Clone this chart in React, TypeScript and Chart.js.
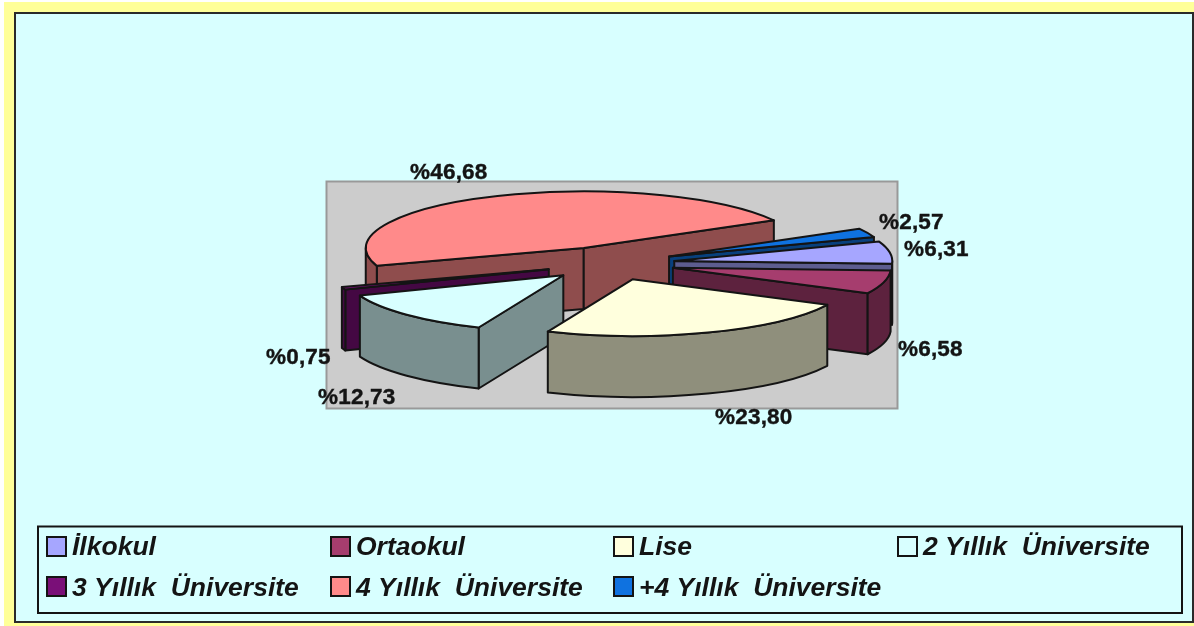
import React, { useEffect, useRef } from "react";
import { Chart, registerables } from "chart.js";

Chart.register(...registerables);

const categories = ["İlkokul", "Ortaokul", "Lise", "2 Yıllık  Üniversite", "3 Yıllık  Üniversite", "4 Yıllık  Üniversite", "+4 Yıllık  Üniversite"];
const shares = [6.31, 6.58, 23.8, 12.73, 0.75, 46.68, 2.57];
const sliceColors = ["#A6A6FF", "#A63D6E", "#FFFFDD", "#D8FFFF", "#7A0F78", "#FF8A8A", "#0F72E0"];

// slices are painted back to front
const paintOrder = [5, 6, 0, 1, 4, 3, 2];
const labelOrigin = [[904, 248], [898, 348], [715, 416], [318, 396], [266, 356], [410, 171], [879, 221]];
const legendColumns = [47, 331, 614, 898];
const legendRows = [537, 577];

const TILT = 0.26;
const DEPTH = 61;
const EXPLODE = 65;
const INK = "#141414";
const PANEL = "#D8FFFF";

function shade(hex: string, f = 0.56) {
  const n = parseInt(hex.slice(1), 16);
  const c = [(n >> 16) & 255, (n >> 8) & 255, n & 255].map((v) => Math.round(v * f));
  return `rgb(${c[0]},${c[1]},${c[2]})`;
}

const pie3d = {
  id: "pie3d",
  beforeDraw(chart: any) {
    const { ctx } = chart;
    ctx.save();
    ctx.fillStyle = "#FFFFFF";
    ctx.fillRect(0, 0, 1194, 626);
    ctx.fillStyle = "#FFFF99";
    ctx.fillRect(4, 2, 1190, 624);
    ctx.fillStyle = PANEL;
    ctx.strokeStyle = "#2A2A2A";
    ctx.lineWidth = 2;
    ctx.fillRect(15, 13, 1178, 609);
    ctx.strokeRect(15, 13, 1178, 609);
    ctx.fillStyle = "#CCCCCC";
    ctx.strokeStyle = "#999999";
    ctx.fillRect(326.5, 181.5, 571, 227);
    ctx.strokeRect(326.5, 181.5, 571, 227);
    ctx.restore();
  },
  beforeDatasetsDraw(chart: any) {
    const { ctx } = chart;
    const arcs = chart.getDatasetMeta(0).data;
    const colors = chart.data.datasets[0].backgroundColor;
    ctx.save();
    ctx.lineJoin = "round";
    ctx.lineWidth = 2;
    ctx.strokeStyle = INK;
    for (const i of paintOrder) {
      const arc = arcs[i];
      const { startAngle: a, endAngle: b, outerRadius: r } = arc;
      const mid = (a + b) / 2;
      const cx = arc.x + Math.cos(mid) * EXPLODE;
      const cy = arc.y + Math.sin(mid) * EXPLODE * TILT;
      const px = (t: number) => cx + Math.cos(t) * r;
      const py = (t: number) => cy + Math.sin(t) * r * TILT;
      const wall = (t: number) => {
        ctx.beginPath();
        ctx.moveTo(cx, cy);
        ctx.lineTo(px(t), py(t));
        ctx.lineTo(px(t), py(t) + DEPTH);
        ctx.lineTo(cx, cy + DEPTH);
        ctx.closePath();
        ctx.fillStyle = shade(colors[i]);
        ctx.fill();
        ctx.stroke();
      };
      if (Math.cos(a) < 0) wall(a);
      if (Math.cos(b) > 0) wall(b);
      // curved rim: only the part on the near side of the ellipse
      for (let k = -1; k <= 1; k++) {
        const s = Math.max(a, k * 2 * Math.PI);
        const e = Math.min(b, k * 2 * Math.PI + Math.PI);
        if (e > s) {
          ctx.beginPath();
          ctx.ellipse(cx, cy, r, r * TILT, 0, s, e);
          ctx.lineTo(px(e), py(e) + DEPTH);
          ctx.ellipse(cx, cy + DEPTH, r, r * TILT, 0, e, s, true);
          ctx.closePath();
          ctx.fillStyle = shade(colors[i]);
          ctx.fill();
          ctx.stroke();
        }
      }
      // top face: the library's own arc, squashed
      ctx.save();
      ctx.translate(cx, cy);
      ctx.scale(1, TILT);
      ctx.translate(-arc.x, -arc.y);
      arc.draw(ctx);
      ctx.restore();
      ctx.beginPath();
      ctx.moveTo(cx, cy);
      ctx.ellipse(cx, cy, r, r * TILT, 0, a, b);
      ctx.closePath();
      ctx.stroke();
    }
    ctx.restore();
    return false;
  },
  afterDraw(chart: any) {
    const { ctx } = chart;
    const values = chart.data.datasets[0].data;
    ctx.save();
    ctx.fillStyle = INK;
    ctx.strokeStyle = INK;
    ctx.textBaseline = "alphabetic";
    ctx.textAlign = "left";
    ctx.font = 'bold 22.5px "Liberation Sans"';
    ctx.lineWidth = 0.4;
    (ctx as any).letterSpacing = "0.2px";
    values.forEach((v: number, i: number) => {
      const t = "%" + v.toFixed(2).replace(".", ",");
      ctx.fillText(t, labelOrigin[i][0], labelOrigin[i][1] + 8);
      ctx.strokeText(t, labelOrigin[i][0], labelOrigin[i][1] + 8);
    });
    (ctx as any).letterSpacing = "0px";

    ctx.lineWidth = 2;
    ctx.strokeRect(38, 526.5, 1144, 86.5);
    ctx.font = 'italic bold 26.5px "Liberation Sans"';
    chart.data.labels.forEach((name: string, i: number) => {
      const x = legendColumns[i % 4];
      const row = Math.floor(i / 4);
      const y = legendRows[row];
      ctx.fillStyle = chart.data.datasets[0].backgroundColor[i];
      ctx.fillRect(x, y, 19, 19);
      ctx.strokeRect(x, y, 19, 19);
      ctx.fillStyle = INK;
      ctx.fillText(name, x + 25, y + 18 + row);
    });
    ctx.restore();
  },
};

export default function App() {
  const ref = useRef<HTMLCanvasElement>(null);
  useEffect(() => {
    document.body.style.margin = "0";
    const chart = new Chart(ref.current!, {
      type: "pie",
      data: {
        labels: categories,
        datasets: [{ data: shares, backgroundColor: sliceColors, borderWidth: 0, radius: 218 } as any],
      },
      options: {
        animation: false,
        responsive: false,
        rotation: 70,
        layout: { padding: { left: 26, bottom: 99, top: 0, right: 0 } },
        plugins: { legend: { display: false }, tooltip: { enabled: false }, title: { display: false } },
      },
      plugins: [pie3d as any],
    });
    return () => chart.destroy();
  }, []);
  return <canvas ref={ref} width={1194} height={626} style={{ display: "block", width: 1194, height: 626 }} />;
}
